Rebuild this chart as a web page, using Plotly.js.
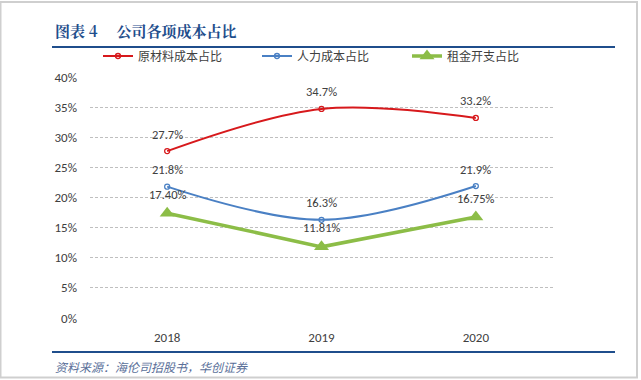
<!DOCTYPE html>
<html><head><meta charset="utf-8">
<script src="https://cdn.plot.ly/plotly-3.0.1.min.js"></script>
<style>html,body{margin:0;padding:0;background:#fff;}#chart{width:641px;height:380px;}</style>
</head><body><div id="chart"></div>
<script>
const categories = ['2018', '2019', '2020'];
const materialShare = [0.277, 0.347, 0.332];
const laborShare = [0.218, 0.163, 0.219];
const rentShare = [0.1740, 0.1181, 0.1675];
const materialLabels = ['27.7%', '34.7%', '33.2%'];
const laborLabels = ['21.8%', '16.3%', '21.9%'];
const rentLabels = ['17.40%', '11.81%', '16.75%'];
const seriesNames = ['原材料成本占比', '人力成本占比', '租金开支占比'];
const yTickVals = [0, 0.05, 0.10, 0.15, 0.20, 0.25, 0.30, 0.35, 0.40];
const yTickText = ['0%', '5%', '10%', '15%', '20%', '25%', '30%', '35%', '40%'];

const W = 641, H = 380, L = 90, R = 88, T = 77, B = 62;
const pw = W - L - R, ph = H - T - B;
const px = x => (x - L) / pw;
const py = y => (H - B - y) / ph;
const font = 'Calibri, Carlito, "Liberation Sans", "Noto Sans CJK SC", sans-serif';

const labelFont = {size: 12.5, color: '#404040', family: font};
const traces = [
  {x: categories, y: materialShare, name: seriesNames[0], type: 'scatter', mode: 'lines+markers',
   legend: 'legend',
   line: {color: '#d7191c', width: 2, shape: 'spline', smoothing: 1},
   marker: {symbol: 'circle-open', size: 5, color: '#d7191c', line: {width: 1.3}}, cliponaxis: false},
  {x: categories, y: laborShare, name: seriesNames[1], type: 'scatter', mode: 'lines+markers',
   legend: 'legend2',
   line: {color: '#4a80c4', width: 2, shape: 'spline', smoothing: 1},
   marker: {symbol: 'circle-open', size: 5, color: '#4a80c4', line: {width: 1.3}}, cliponaxis: false},
  {x: categories, y: rentShare, name: seriesNames[2], type: 'scatter', mode: 'lines+markers',
   legend: 'legend3',
   line: {color: '#8cbd47', width: 3.5},
   marker: {symbol: 'triangle-up', size: 13, color: '#8cbd47'}, cliponaxis: false}
];

const dataLabels = [];
const addLabels = (vals, labels, shift) => vals.forEach((v, i) => dataLabels.push({
  x: i, y: v, xref: 'x', yref: 'y', text: labels[i], showarrow: false,
  yshift: shift, xanchor: 'center', yanchor: 'middle', font: labelFont}));
addLabels(materialShare, materialLabels, 17);
addLabels(laborShare, laborLabels, 17);
addLabels(rentShare, rentLabels, 19);

const legendBase = xpx => ({orientation: 'h', x: px(xpx), xanchor: 'left', y: py(56), yanchor: 'middle',
  font: {size: 12, color: '#404040', family: font}, itemwidth: 30, bgcolor: 'rgba(0,0,0,0)'});

const layout = {
  width: W, height: H,
  margin: {l: L, r: R, t: T, b: B},
  paper_bgcolor: '#ffffff', plot_bgcolor: '#ffffff',
  showlegend: true,
  legend: legendBase(98),
  legend2: legendBase(257),
  legend3: legendBase(407),
  xaxis: {type: 'category', range: [-0.5, 2.5], showgrid: false, zeroline: false, showline: false,
    ticks: '', ticklabelstandoff: 10, tickfont: {size: 13, color: '#404040', family: font}, fixedrange: true},
  yaxis: {range: [0, 0.4], tickvals: yTickVals, ticktext: yTickText, showgrid: true,
    gridcolor: '#bfbfbf', griddash: '3px,2px', gridwidth: 1, zeroline: false, showline: false,
    ticks: '', ticklabelstandoff: 12,
    tickfont: {size: 13, color: '#404040', family: font}, fixedrange: true},
  shapes: [
    {type: 'rect', xref: 'paper', yref: 'paper', x0: px(0.5), x1: px(637), y0: py(2), y1: py(377.5),
     line: {color: '#cfcfcf', width: 2}, layer: 'below'},
    {type: 'line', xref: 'paper', yref: 'paper', x0: px(52), x1: px(615), y0: py(47), y1: py(47),
     line: {color: '#1f4e8c', width: 2}},
    {type: 'line', xref: 'paper', yref: 'paper', x0: px(52), x1: px(615), y0: py(352), y1: py(352),
     line: {color: '#1f4e8c', width: 2}}
  ],
  annotations: dataLabels.concat([
    {text: '<b>图表 4&nbsp;&nbsp;&nbsp;&nbsp;&nbsp;公司各项成本占比</b>', xref: 'paper', yref: 'paper', x: px(53), y: py(30),
     xanchor: 'left', yanchor: 'middle', showarrow: false,
     font: {size: 15, color: '#1f4e8c', family: '"Noto Serif CJK SC", "Noto Sans CJK SC", serif'}},
    {text: '<i>资料来源：海伦司招股书，华创证券</i>', xref: 'paper', yref: 'paper', x: px(53), y: py(366),
     xanchor: 'left', yanchor: 'middle', showarrow: false,
     font: {size: 12, color: '#5a6f99', family: '"Noto Sans CJK SC", sans-serif'}}
  ])
};

Plotly.newPlot('chart', traces, layout, {displayModeBar: false, staticPlot: true});
</script></body></html>
